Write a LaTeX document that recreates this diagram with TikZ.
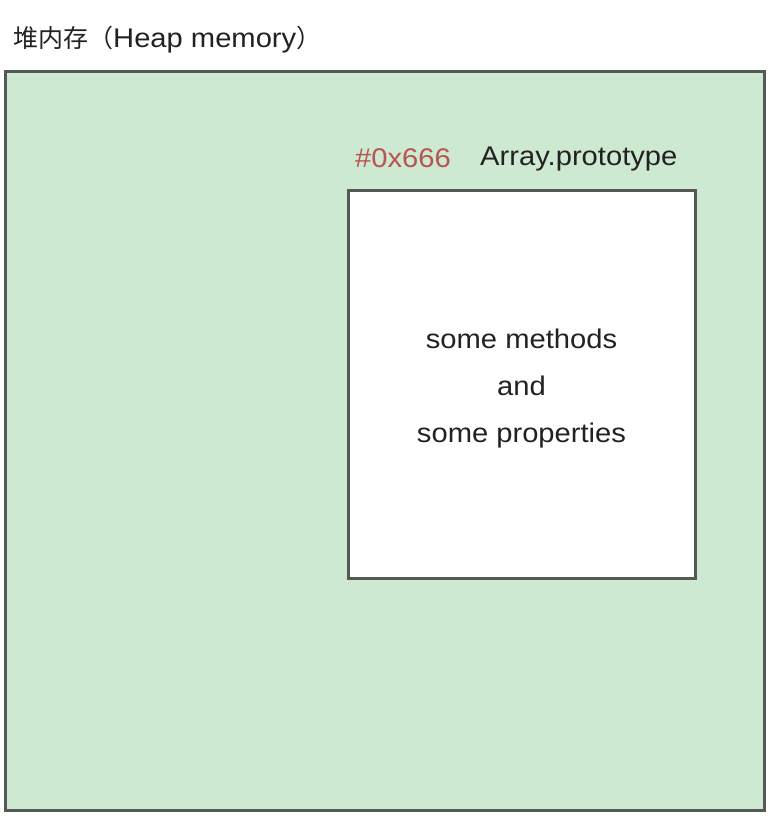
\documentclass[tikz,border=0pt]{standalone}
\usepackage{fontspec}
\setmainfont{Liberation Sans}[FakeStretch=1.08]
\newfontfamily\cjk{Noto Sans CJK SC}
\definecolor{heapfill}{HTML}{CEE9D1}
\definecolor{boxline}{HTML}{555955}
\definecolor{addrred}{HTML}{B85450}
\definecolor{txt}{HTML}{222222}
\begin{document}
\begin{tikzpicture}[x=1pt,y=-1pt,
  lbl/.style={inner sep=0pt,text=txt,font=\fontsize{27}{32}\selectfont},
  boxstyle/.style={draw=boxline,line width=3pt}]
\useasboundingbox (0,0) rectangle (770,816);
\draw[boxstyle,fill=heapfill] (5,71) rectangle (764,810);
\node[boxstyle,fill=white,minimum width=347pt,minimum height=388pt,inner sep=0pt] (proto) at (521.5,384) {};
\node[lbl,anchor=west] (title) at (13,40) {{\cjk\fontsize{25}{30}\selectfont 堆内存（}Heap memory{\cjk\fontsize{25}{30}\selectfont ）}};
\node[lbl,anchor=west,text=addrred] (addr) at (355,158) {\#0x666};
\node[lbl,anchor=west] (pname) at (480,159) {Array.prototype};
\node[lbl] (l1) at (521.5,339) {some methods};
\node[lbl] (l2) at (521.5,386) {and};
\node[lbl] (l3) at (521.5,436) {some properties};
\end{tikzpicture}
\end{document}
